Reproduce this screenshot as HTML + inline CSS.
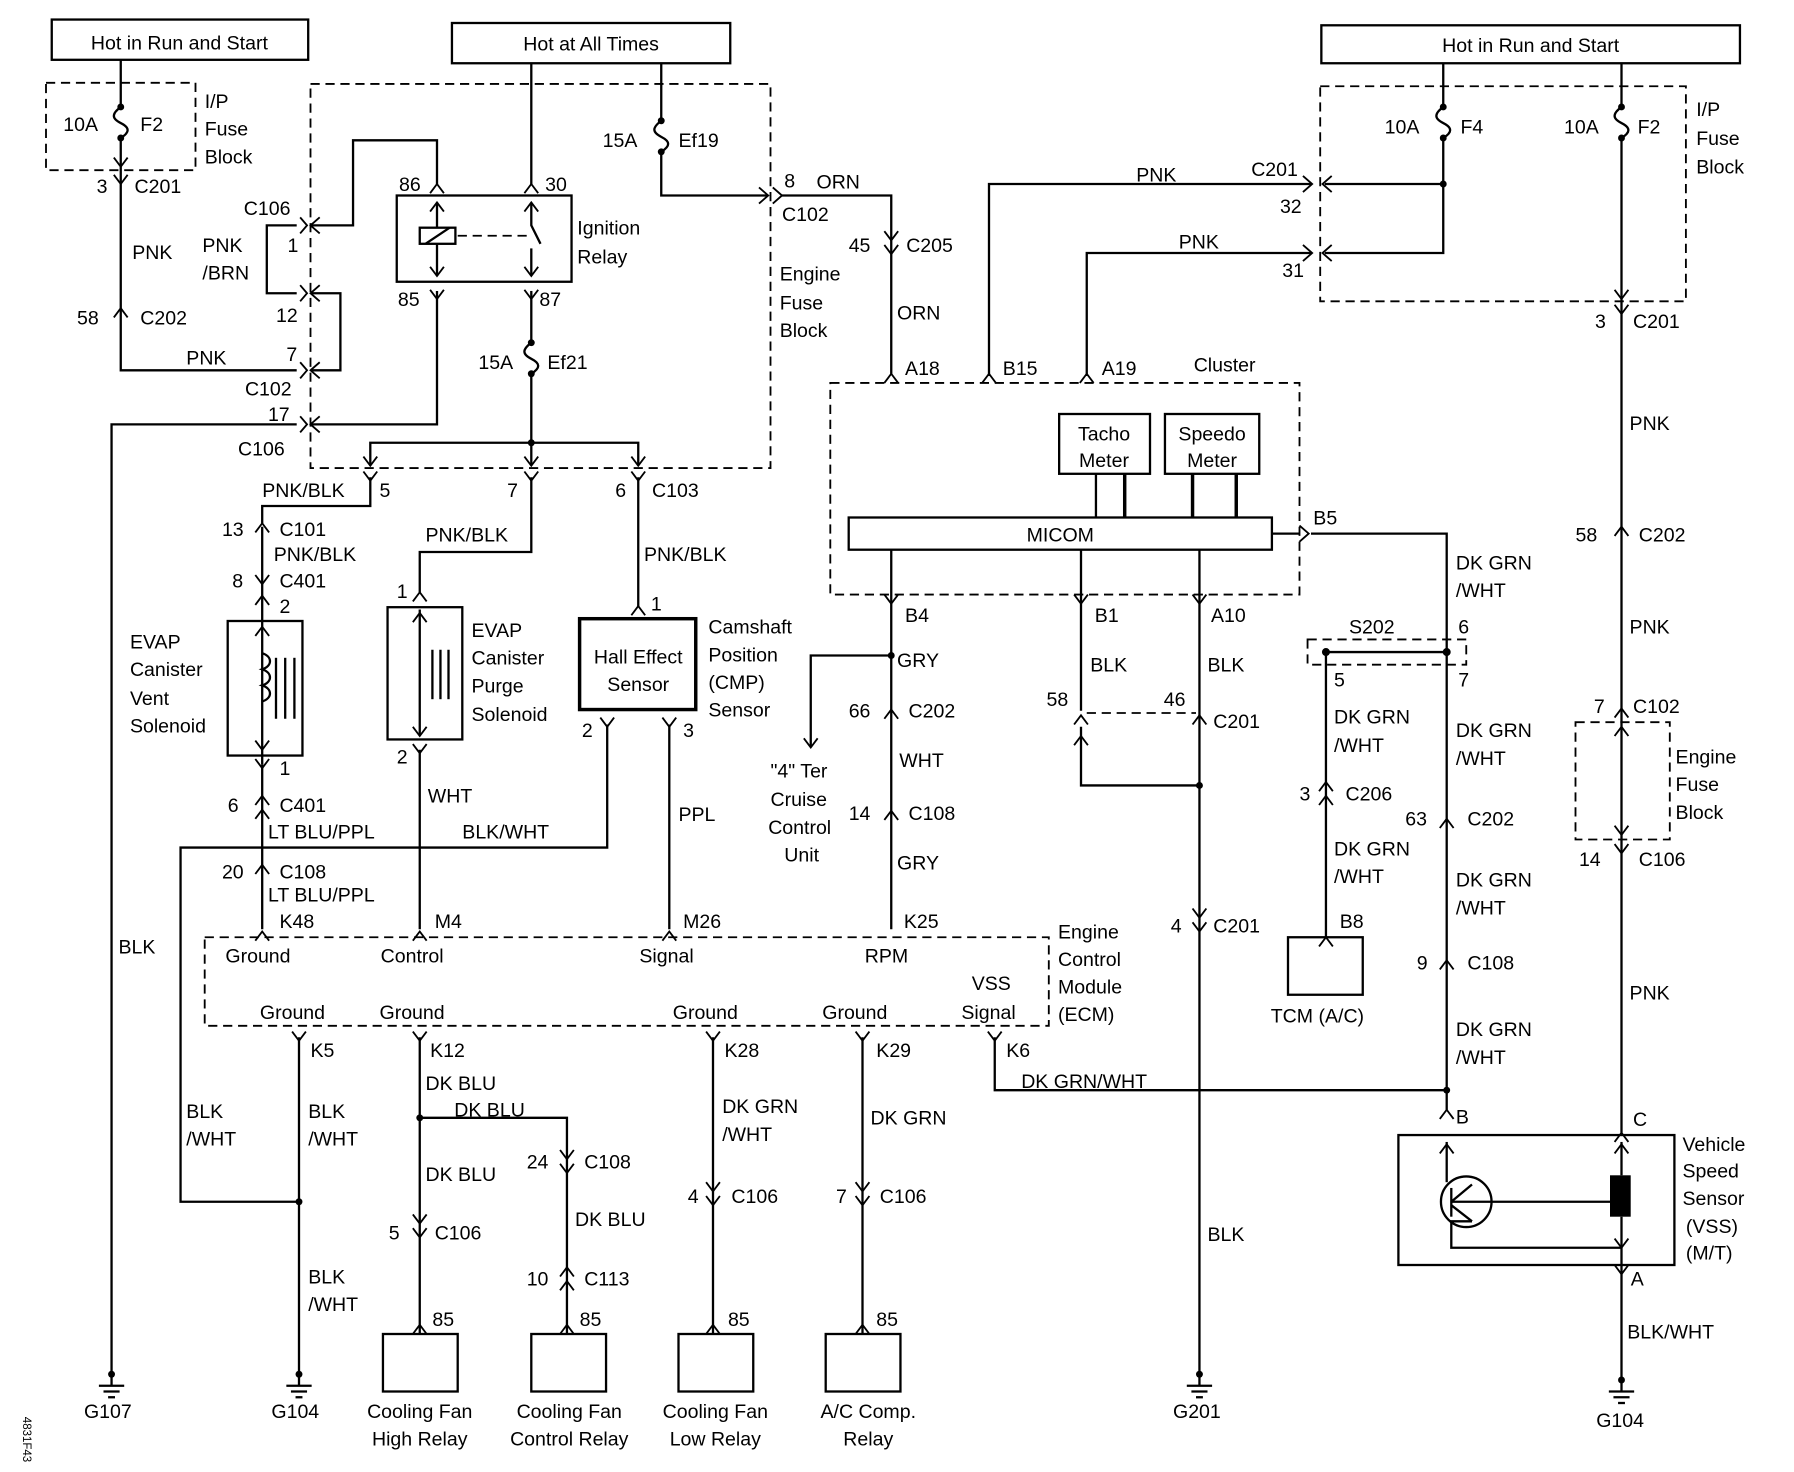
<!DOCTYPE html>
<html><head><meta charset="utf-8"><style>
html,body{margin:0;padding:0;background:#fff}
svg{display:block}
text{font-family:"Liberation Sans",sans-serif;font-size:17px;fill:#000}
</style></head><body>
<svg width="1794" height="1472" viewBox="0 0 1560 1280" preserveAspectRatio="none" xmlns="http://www.w3.org/2000/svg">
<defs>
<path id="v" d="M-6,-8 L0,0 L6,-8" fill="none" stroke="#000" stroke-width="1.6"/>
<path id="a" d="M-6,8 L0,0 L6,8" fill="none" stroke="#000" stroke-width="1.6"/>
<path id="vv" d="M-6,-12 L0,-4 L6,-12 M-6,0 L0,8 L6,0" fill="none" stroke="#000" stroke-width="1.6"/>
<path id="aa" d="M-6,-2 L0,-10 L6,-2 M-6,10 L0,2 L6,10" fill="none" stroke="#000" stroke-width="1.6"/>
<path id="l" d="M8,-7 L0,0 L8,7" fill="none" stroke="#000" stroke-width="1.6"/>
<path id="lc" d="M8,-7 L0,0 L8,7 M-9,-7 L-3,0 L-9,7" fill="none" stroke="#000" stroke-width="1.6"/>
<path id="r" d="M-8,-7 L0,0 L-8,7" fill="none" stroke="#000" stroke-width="1.6"/>
<path id="fuse" d="M0,0 C-8,6 -8,10 0,14 C8,18 8,22 0,27" fill="none" stroke="#000" stroke-width="2"/>
<g id="gnd"><line x1="0" y1="0" x2="0" y2="10" stroke="#000" stroke-width="2"/><line x1="-11" y1="10" x2="11" y2="10" stroke="#000" stroke-width="2"/><line x1="-7" y1="15" x2="7" y2="15" stroke="#000" stroke-width="2"/><line x1="-3" y1="20" x2="3" y2="20" stroke="#000" stroke-width="2"/></g>
</defs>
<g fill="none" stroke="#000" stroke-width="2">
<!-- boxes -->
<rect x="45" y="17" width="223" height="35"/>
<rect x="393" y="20" width="242" height="35"/>
<rect x="1149" y="22" width="364" height="33"/>
<rect x="345" y="170" width="152" height="75"/>
<rect x="504" y="538" width="101" height="79" stroke-width="3"/>
<rect x="198" y="540" width="65" height="117"/>
<rect x="337" y="528" width="65" height="115"/>
<rect x="921" y="360" width="79" height="52"/>
<rect x="1013" y="360" width="82" height="52"/>
<rect x="738" y="450" width="368" height="28"/>
<rect x="1120" y="815" width="65" height="50"/>
<rect x="1216" y="987" width="240" height="113"/>
<rect x="333" y="1160" width="65" height="50"/>
<rect x="462" y="1160" width="65" height="50"/>
<rect x="590" y="1160" width="65" height="50"/>
<rect x="718" y="1160" width="65" height="50"/>
</g>
<g fill="none" stroke="#000" stroke-width="1.6" stroke-dasharray="8,5">
<rect x="40" y="72" width="130" height="76"/>
<rect x="270" y="73" width="400" height="334"/>
<rect x="722" y="333" width="408" height="184"/>
<rect x="1148" y="75" width="318" height="187"/>
<rect x="1370" y="628" width="82" height="102"/>
<rect x="178" y="815" width="734" height="77"/>
<rect x="1137" y="556" width="138" height="22"/>
<line x1="945" y1="620" x2="1040" y2="620"/>
<line x1="398" y1="205" x2="458" y2="205"/>
</g>
<g fill="none" stroke="#000" stroke-width="2">
<!-- left IP fuse -->
<polyline points="105,52 105,93"/>
<polyline points="105,120 105,322 258,322"/>
<!-- PNK/BRN loop -->
<polyline points="258,196 232,196 232,255 258,255"/>
<polyline points="270,255 296,255 296,322 270,322"/>
<polyline points="270,196 307,196 307,122 380,122 380,160"/>
<polyline points="270,369 380,369 380,253"/>
<polyline points="258,369 97,369 97,1195"/>
<!-- relay internals -->
<line x1="380" y1="176" x2="380" y2="198"/><line x1="380" y1="212" x2="380" y2="240"/>
<rect x="365" y="198" width="31" height="14"/><line x1="370" y1="212" x2="391" y2="198"/>
<polyline points="462,176 462,196 470,212"/><line x1="462" y1="216" x2="462" y2="240"/>
<line x1="462" y1="55" x2="462" y2="160"/>
<polyline points="462,253 462,298"/><polyline points="462,325 462,385"/>
<polyline points="322,405 322,385 555,385 555,405"/><line x1="462" y1="385" x2="462" y2="405"/>
<!-- Ef19 -->
<polyline points="575,55 575,105"/><polyline points="575,132 575,170 668,170"/>
<polyline points="680,170 775,170 775,325"/>
<!-- vent -->
<polyline points="322,415 322,440 228,440 228,455"/>
<line x1="228" y1="458" x2="228" y2="665"/>
<line x1="228" y1="665" x2="228" y2="808"/>
<path d="M228,568 c9,3 9,11 0,14 c9,3 9,11 0,14 c9,3 9,11 0,14"/>
<line x1="240" y1="572" x2="240" y2="625"/><line x1="248" y1="572" x2="248" y2="625"/><line x1="256" y1="572" x2="256" y2="625"/>
<!-- purge -->
<polyline points="462,415 462,480 365,480 365,515"/>
<line x1="365" y1="530" x2="365" y2="640"/><line x1="365" y1="652" x2="365" y2="808"/>
<line x1="376" y1="565" x2="376" y2="608"/><line x1="383" y1="565" x2="383" y2="608"/><line x1="390" y1="565" x2="390" y2="608"/>
<!-- hall -->
<line x1="555" y1="415" x2="555" y2="527"/>
<polyline points="528,630 528,737 157,737 157,1045 260,1045"/>
<line x1="582" y1="630" x2="582" y2="808"/>
<!-- ECM bottom -->
<line x1="260" y1="902" x2="260" y2="1195"/>
<polyline points="365,902 365,1160"/><polyline points="365,972 493,972 493,1160"/>
<line x1="620" y1="902" x2="620" y2="1160"/>
<line x1="750" y1="902" x2="750" y2="1160"/>
<polyline points="865,902 865,948 1258,948"/>
<!-- cluster -->
<polyline points="860,327 860,160 1140,160"/>
<polyline points="945,327 945,220 1140,220"/>
<polyline points="1255,55 1255,93"/><polyline points="1255,120 1255,220 1152,220"/>
<line x1="1152" y1="160" x2="1255" y2="160"/>
<polyline points="1410,55 1410,93"/><line x1="1410" y1="120" x2="1410" y2="985"/>
<line x1="953" y1="412" x2="953" y2="450"/><line x1="978" y1="412" x2="978" y2="450" stroke-width="3"/>
<line x1="1037" y1="412" x2="1037" y2="450" stroke-width="3"/><line x1="1075" y1="412" x2="1075" y2="450" stroke-width="3"/>
<line x1="1106" y1="464" x2="1130" y2="464"/>
<polyline points="1140,464 1258,464 1258,965"/>
<line x1="1153" y1="567" x2="1258" y2="567"/>
<line x1="1153" y1="567" x2="1153" y2="815"/>
<line x1="775" y1="478" x2="775" y2="808"/>
<polyline points="775,570 705,570 705,650"/>
<line x1="940" y1="478" x2="940" y2="525"/><line x1="940" y1="525" x2="940" y2="618"/>
<polyline points="940,632 940,683 1043,683"/>
<line x1="1043" y1="478" x2="1043" y2="1195"/>
<!-- VSS -->
<line x1="1258" y1="993" x2="1258" y2="1028"/>
<circle cx="1275" cy="1045" r="22"/>
<polyline points="1262,1033 1262,1058"/><line x1="1262" y1="1045" x2="1297" y2="1045"/>
<line x1="1262" y1="1045" x2="1280" y2="1030"/><line x1="1262" y1="1048" x2="1280" y2="1062"/>
<line x1="1297" y1="1045" x2="1400" y2="1045"/>
<polyline points="1280,1062 1262,1062 1262,1085 1410,1085"/>
<line x1="1410" y1="993" x2="1410" y2="1022"/><line x1="1410" y1="1058" x2="1410" y2="1200"/>
</g>
<rect x="1400" y="1022" width="18" height="36" fill="#000"/>
<g fill="#000">
<circle cx="105" cy="93" r="3"/><circle cx="105" cy="120" r="3"/>
<circle cx="462" cy="298" r="3"/><circle cx="462" cy="325" r="3"/><circle cx="462" cy="385" r="3"/>
<circle cx="575" cy="105" r="3"/><circle cx="575" cy="132" r="3"/>
<circle cx="1255" cy="93" r="3"/><circle cx="1255" cy="120" r="3"/><circle cx="1255" cy="160" r="3"/>
<circle cx="1410" cy="93" r="3"/><circle cx="1410" cy="120" r="3"/>
<circle cx="260" cy="1045" r="3"/><circle cx="365" cy="972" r="3"/><circle cx="775" cy="570" r="3"/>
<circle cx="1043" cy="683" r="3"/><circle cx="1153" cy="567" r="3.5"/><circle cx="1258" cy="567" r="3.5"/><circle cx="1258" cy="948" r="3"/>
<circle cx="97" cy="1195" r="3"/><circle cx="260" cy="1195" r="3"/><circle cx="1043" cy="1195" r="3"/><circle cx="1410" cy="1200" r="3"/>
</g>
<g fill="#fff">
<use href="#fuse" x="105" y="93"/><use href="#fuse" x="462" y="298"/><use href="#fuse" x="575" y="105"/>
<use href="#fuse" x="1255" y="93"/><use href="#fuse" x="1410" y="93"/>
</g>
<!-- connectors / arrows -->
<use href="#v" x="105" y="145"/><use href="#v" x="105" y="160"/><use href="#a" x="105" y="268"/>
<use href="#lc" x="270" y="196"/><use href="#lc" x="270" y="255"/><use href="#lc" x="270" y="322"/><use href="#lc" x="270" y="369"/>
<use href="#a" x="380" y="160"/><use href="#a" x="462" y="160"/><use href="#v" x="380" y="260"/><use href="#v" x="462" y="260"/>
<use href="#a" x="380" y="176"/><use href="#v" x="380" y="240"/><use href="#a" x="462" y="176"/><use href="#v" x="462" y="240"/>
<use href="#r" x="668" y="170"/><use href="#r" x="680" y="170"/>
<use href="#vv" x="775" y="213"/><use href="#a" x="775" y="325"/><use href="#a" x="860" y="325"/><use href="#a" x="945" y="325"/>
<use href="#v" x="322" y="405"/><use href="#v" x="462" y="405"/><use href="#v" x="555" y="405"/>
<use href="#v" x="322" y="418"/><use href="#v" x="462" y="418"/><use href="#v" x="555" y="418"/>
<use href="#a" x="228" y="455"/><use href="#v" x="228" y="508"/><use href="#a" x="228" y="518"/>
<use href="#a" x="228" y="545"/><use href="#v" x="228" y="652"/><use href="#v" x="228" y="668"/>
<use href="#aa" x="228" y="702"/><use href="#a" x="228" y="752"/><use href="#a" x="228" y="810"/>
<use href="#a" x="365" y="515"/><use href="#a" x="365" y="533"/><use href="#v" x="365" y="640"/><use href="#v" x="365" y="655"/><use href="#a" x="365" y="810"/>
<use href="#a" x="555" y="527"/><use href="#v" x="528" y="632"/><use href="#v" x="582" y="632"/><use href="#a" x="582" y="810"/>
<use href="#v" x="260" y="905"/><use href="#v" x="365" y="905"/><use href="#v" x="620" y="905"/><use href="#v" x="750" y="905"/><use href="#v" x="865" y="905"/>
<use href="#vv" x="365" y="1068"/><use href="#vv" x="493" y="1012"/><use href="#aa" x="493" y="1112"/>
<use href="#vv" x="620" y="1040"/><use href="#vv" x="750" y="1040"/>
<use href="#a" x="365" y="1152"/><use href="#a" x="493" y="1152"/><use href="#a" x="620" y="1152"/><use href="#a" x="750" y="1152"/>
<use href="#l" x="1150" y="160"/><use href="#l" x="1150" y="220"/><use href="#r" x="1141" y="160"/><use href="#r" x="1141" y="220"/>
<use href="#v" x="1410" y="260"/><use href="#v" x="1410" y="273"/><use href="#a" x="1410" y="458"/>
<use href="#a" x="1410" y="616"/><use href="#a" x="1410" y="632"/><use href="#v" x="1410" y="726"/><use href="#v" x="1410" y="742"/>
<use href="#a" x="1410" y="985"/><use href="#a" x="1410" y="995"/>
<use href="#r" x="1138" y="464"/>
<use href="#v" x="775" y="525"/><use href="#v" x="940" y="525"/><use href="#v" x="1043" y="525"/>
<use href="#v" x="705" y="650"/><use href="#a" x="775" y="617"/><use href="#a" x="775" y="705"/>
<use href="#a" x="940" y="622"/><use href="#a" x="1043" y="622"/><use href="#a" x="940" y="640"/>
<use href="#vv" x="1043" y="802"/><use href="#aa" x="1153" y="690"/><use href="#a" x="1153" y="815"/>
<use href="#a" x="1258" y="712"/><use href="#a" x="1258" y="835"/><use href="#a" x="1258" y="965"/><use href="#a" x="1258" y="995"/>
<use href="#v" x="1410" y="1085"/><use href="#v" x="1410" y="1108"/>
<use href="#gnd" x="97" y="1195"/><use href="#gnd" x="260" y="1195"/><use href="#gnd" x="1043" y="1195"/><use href="#gnd" x="1410" y="1200"/>
<g>
<text x="156" y="43" text-anchor="middle">Hot in Run and Start</text>
<text x="514" y="44" text-anchor="middle">Hot at All Times</text>
<text x="1331" y="45" text-anchor="middle">Hot in Run and Start</text>
<text x="55" y="114">10A</text><text x="122" y="114">F2</text>
<text x="178" y="94">I/P</text><text x="178" y="118">Fuse</text><text x="178" y="142">Block</text>
<text x="84" y="168">3</text><text x="117" y="168">C201</text><text x="115" y="225">PNK</text>
<text x="67" y="282">58</text><text x="122" y="282">C202</text><text x="162" y="317">PNK</text>
<text x="249" y="314">7</text><text x="213" y="344">C102</text><text x="212" y="187">C106</text><text x="250" y="219">1</text>
<text x="176" y="219">PNK</text><text x="176" y="243">/BRN</text><text x="240" y="280">12</text><text x="233" y="366">17</text><text x="207" y="396">C106</text>
<text x="347" y="166">86</text><text x="474" y="166">30</text><text x="346" y="266">85</text><text x="469" y="266">87</text>
<text x="502" y="204">Ignition</text><text x="502" y="229">Relay</text>
<text x="416" y="321">15A</text><text x="476" y="321">Ef21</text>
<text x="524" y="128">15A</text><text x="590" y="128">Ef19</text>
<text x="682" y="163">8</text><text x="710" y="164">ORN</text><text x="680" y="192">C102</text>
<text x="738" y="219">45</text><text x="788" y="219">C205</text><text x="780" y="278">ORN</text>
<text x="678" y="244">Engine</text><text x="678" y="269">Fuse</text><text x="678" y="293">Block</text>
<text x="787" y="326">A18</text><text x="872" y="326">B15</text><text x="958" y="326">A19</text><text x="1038" y="323">Cluster</text>
<text x="988" y="158">PNK</text><text x="1088" y="153">C201</text><text x="1113" y="185">32</text>
<text x="1025" y="216">PNK</text><text x="1115" y="241">31</text>
<text x="1204" y="116">10A</text><text x="1270" y="116">F4</text><text x="1360" y="116">10A</text><text x="1424" y="116">F2</text>
<text x="1475" y="101">I/P</text><text x="1475" y="126">Fuse</text><text x="1475" y="151">Block</text>
<text x="1387" y="285">3</text><text x="1420" y="285">C201</text><text x="1417" y="374">PNK</text>
<text x="1370" y="471">58</text><text x="1425" y="471">C202</text><text x="1417" y="551">PNK</text>
<text x="1386" y="620">7</text><text x="1420" y="620">C102</text>
<text x="1457" y="664">Engine</text><text x="1457" y="688">Fuse</text><text x="1457" y="712">Block</text>
<text x="1373" y="753">14</text><text x="1425" y="753">C106</text><text x="1417" y="869">PNK</text><text x="1420" y="979">C</text>
<text x="960" y="383" text-anchor="middle">Tacho</text><text x="960" y="406" text-anchor="middle">Meter</text>
<text x="1054" y="383" text-anchor="middle">Speedo</text><text x="1054" y="406" text-anchor="middle">Meter</text>
<text x="922" y="471" text-anchor="middle">MICOM</text><text x="1142" y="456">B5</text>
<text x="1266" y="495">DK GRN</text><text x="1266" y="519">/WHT</text><text x="1268" y="551">6</text><text x="1173" y="551">S202</text>
<text x="1160" y="597">5</text><text x="1268" y="597">7</text>
<text x="1160" y="629">DK GRN</text><text x="1160" y="654">/WHT</text><text x="1130" y="696">3</text><text x="1170" y="696">C206</text>
<text x="1160" y="744">DK GRN</text><text x="1160" y="768">/WHT</text><text x="1165" y="807">B8</text><text x="1105" y="889">TCM (A/C)</text>
<text x="1266" y="641">DK GRN</text><text x="1266" y="665">/WHT</text><text x="1222" y="718">63</text><text x="1276" y="718">C202</text>
<text x="1266" y="771">DK GRN</text><text x="1266" y="795">/WHT</text><text x="1232" y="843">9</text><text x="1276" y="843">C108</text>
<text x="1266" y="901">DK GRN</text><text x="1266" y="925">/WHT</text><text x="1266" y="977">B</text>
<text x="1463" y="1001">Vehicle</text><text x="1463" y="1024">Speed</text><text x="1463" y="1048">Sensor</text><text x="1466" y="1072">(VSS)</text><text x="1466" y="1095">(M/T)</text>
<text x="1418" y="1118">A</text><text x="1415" y="1164">BLK/WHT</text><text x="1388" y="1241">G104</text>
<text x="787" y="541">B4</text><text x="780" y="580">GRY</text>
<text x="670" y="676">"4" Ter</text><text x="670" y="701">Cruise</text><text x="668" y="725">Control</text><text x="682" y="749">Unit</text>
<text x="738" y="624">66</text><text x="790" y="624">C202</text><text x="782" y="667">WHT</text>
<text x="738" y="713">14</text><text x="790" y="713">C108</text><text x="780" y="756">GRY</text><text x="786" y="807">K25</text>
<text x="952" y="541">B1</text><text x="948" y="584">BLK</text><text x="910" y="614">58</text><text x="1012" y="614">46</text>
<text x="1053" y="541">A10</text><text x="1050" y="584">BLK</text><text x="1055" y="633">C201</text>
<text x="1018" y="811">4</text><text x="1055" y="811">C201</text><text x="1050" y="1079">BLK</text><text x="1020" y="1233">G201</text>
<text x="228" y="432">PNK/BLK</text><text x="330" y="432">5</text><text x="441" y="432">7</text><text x="535" y="432">6</text><text x="567" y="432">C103</text>
<text x="193" y="466">13</text><text x="243" y="466">C101</text><text x="238" y="488">PNK/BLK</text>
<text x="202" y="511">8</text><text x="243" y="511">C401</text><text x="243" y="533">2</text>
<text x="113" y="564">EVAP</text><text x="113" y="588">Canister</text><text x="113" y="613">Vent</text><text x="113" y="637">Solenoid</text>
<text x="243" y="674">1</text><text x="198" y="706">6</text><text x="243" y="706">C401</text><text x="233" y="729">LT BLU/PPL</text>
<text x="193" y="764">20</text><text x="243" y="764">C108</text><text x="233" y="784">LT BLU/PPL</text><text x="243" y="807">K48</text>
<text x="370" y="471">PNK/BLK</text><text x="345" y="520">1</text>
<text x="410" y="554">EVAP</text><text x="410" y="578">Canister</text><text x="410" y="602">Purge</text><text x="410" y="627">Solenoid</text>
<text x="345" y="664">2</text><text x="372" y="698">WHT</text><text x="378" y="807">M4</text>
<text x="560" y="488">PNK/BLK</text><text x="566" y="531">1</text>
<text x="555" y="577" text-anchor="middle">Hall Effect</text><text x="555" y="601" text-anchor="middle">Sensor</text>
<text x="616" y="551">Camshaft</text><text x="616" y="575">Position</text><text x="616" y="599">(CMP)</text><text x="616" y="623">Sensor</text>
<text x="506" y="641">2</text><text x="594" y="641">3</text><text x="402" y="729">BLK/WHT</text><text x="590" y="714">PPL</text><text x="594" y="807">M26</text>
<text x="196" y="837">Ground</text><text x="331" y="837">Control</text><text x="556" y="837">Signal</text><text x="752" y="837">RPM</text>
<text x="226" y="886">Ground</text><text x="330" y="886">Ground</text><text x="585" y="886">Ground</text><text x="715" y="886">Ground</text>
<text x="845" y="861">VSS</text><text x="836" y="886">Signal</text>
<text x="920" y="816">Engine</text><text x="920" y="840">Control</text><text x="920" y="864">Module</text><text x="920" y="888">(ECM)</text>
<text x="270" y="919">K5</text><text x="374" y="919">K12</text><text x="630" y="919">K28</text><text x="762" y="919">K29</text><text x="875" y="919">K6</text>
<text x="103" y="829">BLK</text><text x="162" y="972">BLK</text><text x="162" y="996">/WHT</text>
<text x="268" y="972">BLK</text><text x="268" y="996">/WHT</text><text x="268" y="1116">BLK</text><text x="268" y="1140">/WHT</text>
<text x="370" y="948">DK BLU</text><text x="395" y="971">DK BLU</text><text x="370" y="1027">DK BLU</text>
<text x="338" y="1078">5</text><text x="378" y="1078">C106</text><text x="458" y="1016">24</text><text x="508" y="1016">C108</text>
<text x="500" y="1066">DK BLU</text><text x="458" y="1118">10</text><text x="508" y="1118">C113</text>
<text x="628" y="968">DK GRN</text><text x="628" y="992">/WHT</text><text x="598" y="1046">4</text><text x="636" y="1046">C106</text>
<text x="757" y="978">DK GRN</text><text x="727" y="1046">7</text><text x="765" y="1046">C106</text>
<text x="888" y="946">DK GRN/WHT</text>
<text x="376" y="1153">85</text><text x="504" y="1153">85</text><text x="633" y="1153">85</text><text x="762" y="1153">85</text>
<text x="365" y="1233" text-anchor="middle">Cooling Fan</text><text x="365" y="1257" text-anchor="middle">High Relay</text>
<text x="495" y="1233" text-anchor="middle">Cooling Fan</text><text x="495" y="1257" text-anchor="middle">Control Relay</text>
<text x="622" y="1233" text-anchor="middle">Cooling Fan</text><text x="622" y="1257" text-anchor="middle">Low Relay</text>
<text x="755" y="1233" text-anchor="middle">A/C Comp.</text><text x="755" y="1257" text-anchor="middle">Relay</text>
<text x="73" y="1233">G107</text><text x="236" y="1233">G104</text>
<text x="20" y="1232" font-size="10" transform="rotate(90 20 1232)" style="font-size:10px">4831F43</text>
</g>
</svg>
</body></html>
